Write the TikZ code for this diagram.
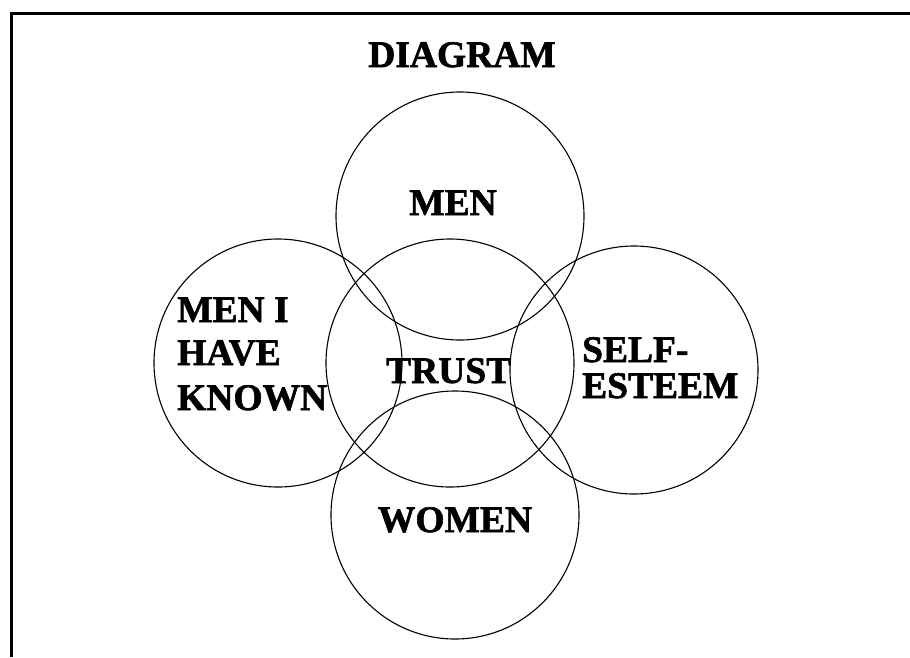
\documentclass[tikz,border=0pt]{standalone}
\usepackage{fontspec}
\setmainfont{Liberation Serif}
\newfontfamily\heavyserif{Liberation Serif Bold}[FakeBold=1.6]
\begin{document}
\begin{tikzpicture}[x=1pt,y=-1pt,
  ring/.style={circle,draw,line width=1.1pt,minimum size=248pt,inner sep=0pt},
  lab/.style={font=\heavyserif\fontsize{37.5}{42}\selectfont,inner sep=0pt}]
\useasboundingbox (0,0) rectangle (910,657);
\coordinate (fbl) at (11.5,657);
\coordinate (ftl) at (11.5,13.5);
\coordinate (ftr) at (910,13.5);
\draw[line width=2.5pt] (fbl) -- (ftl) -- (ftr);
\node[ring] (cmen) at (460,216) {};
\node[ring] (cknown) at (278,363) {};
\node[ring] (ctrust) at (450,363) {};
\node[ring] (cself) at (634,370) {};
\node[ring] (cwomen) at (455,515) {};
\node[lab,anchor=base] (tdiag) at (462,67) {DIAGRAM};
\node[lab,anchor=base] (tmen) at (453,215) {MEN};
\node[lab,anchor=base west] (tk1) at (177,322) {MEN I};
\node[lab,anchor=base west] (tk2) at (177,365) {HAVE};
\node[lab,anchor=base west] (tk3) at (177,410) {KNOWN};
\node[lab,anchor=base west] (ttrust) at (386,383) {TRUST};
\node[lab,anchor=base west] (ts1) at (582,362) {SELF-};
\node[lab,anchor=base west] (ts2) at (582,398) {ESTEEM};
\node[lab,anchor=base] (twomen) at (455,532) {WOMEN};
\end{tikzpicture}
\end{document}
